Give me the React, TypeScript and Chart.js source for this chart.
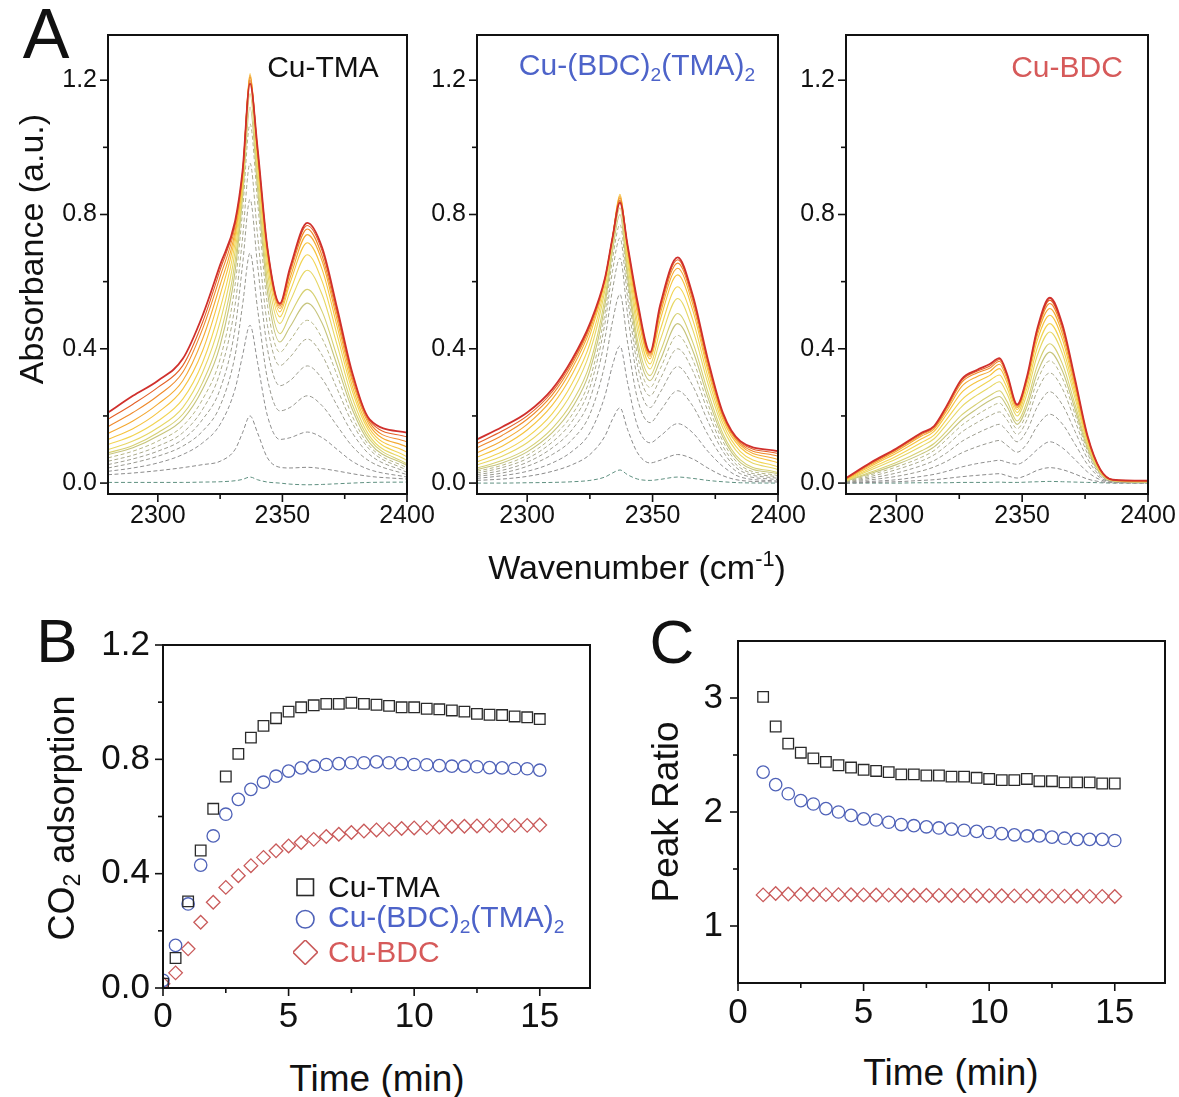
import React, { useEffect, useRef } from 'react';
import { Chart, registerables } from 'chart.js';

Chart.register(...registerables);

const FONT = "'Liberation Sans', Arial, Helvetica, sans-serif";
Chart.defaults.font.family = FONT;
Chart.defaults.color = '#111';

// ---------------- Panel A data ----------------
const WN_TMA = [2280, 2290, 2300, 2310, 2318, 2325, 2331, 2334, 2337, 2340, 2344, 2349, 2353, 2360, 2366, 2372, 2378, 2385, 2400];
const WN_MIX = [2280, 2290, 2300, 2310, 2318, 2325, 2331, 2334, 2337, 2340, 2344, 2349, 2353, 2360, 2366, 2372, 2378, 2385, 2400];
const WN_BDC = [2280, 2290, 2300, 2310, 2315, 2320, 2326, 2332, 2337, 2341, 2344, 2348, 2352, 2356, 2361, 2366, 2371, 2376, 2381, 2386, 2400];

// acquisition times (min) of the plotted spectra
const SPECTRUM_TIMES = [0, 0.5, 1, 1.5, 2, 2.5, 3, 3.5, 4, 5, 6, 7.5, 9, 11, 13, 15];
const SPECTRUM_COLORS = ['#5f9080', '#8a8a8a', '#909090', '#97978f', '#9e9e90', '#a9a98c', '#b5b586', '#c6c47c', '#d6d072', '#e7d764', '#f2d452', '#f6c33e', '#f4a932', '#ef8a2b', '#e46027', '#d0302c'];

const CU_TMA_SPECTRA = [
  [0.002, 0.002, 0.002, 0.002, 0.003, 0.004, 0.007, 0.011, 0.018, 0.010, 0.003, 0.000, -0.003, -0.005, -0.004, -0.002, 0.000, 0.002, 0.003],
  [0.025, 0.030, 0.037, 0.046, 0.055, 0.065, 0.100, 0.150, 0.200, 0.150, 0.075, 0.047, 0.045, 0.047, 0.043, 0.036, 0.028, 0.020, 0.012],
  [0.035, 0.045, 0.060, 0.085, 0.120, 0.175, 0.280, 0.380, 0.470, 0.360, 0.200, 0.130, 0.135, 0.152, 0.135, 0.100, 0.065, 0.040, 0.018],
  [0.045, 0.060, 0.080, 0.110, 0.155, 0.230, 0.380, 0.530, 0.685, 0.520, 0.310, 0.215, 0.225, 0.260, 0.230, 0.170, 0.110, 0.065, 0.025],
  [0.055, 0.072, 0.095, 0.130, 0.190, 0.280, 0.460, 0.650, 0.845, 0.650, 0.400, 0.290, 0.305, 0.349, 0.310, 0.230, 0.150, 0.085, 0.032],
  [0.065, 0.083, 0.110, 0.150, 0.220, 0.330, 0.530, 0.730, 0.953, 0.740, 0.470, 0.350, 0.375, 0.429, 0.380, 0.280, 0.180, 0.100, 0.038],
  [0.075, 0.095, 0.125, 0.170, 0.250, 0.370, 0.590, 0.810, 1.070, 0.840, 0.530, 0.390, 0.425, 0.485, 0.430, 0.320, 0.200, 0.110, 0.045],
  [0.085, 0.105, 0.140, 0.190, 0.280, 0.410, 0.630, 0.850, 1.120, 0.880, 0.570, 0.420, 0.465, 0.536, 0.475, 0.350, 0.220, 0.120, 0.052],
  [0.090, 0.112, 0.150, 0.205, 0.300, 0.440, 0.660, 0.870, 1.160, 0.910, 0.600, 0.445, 0.500, 0.577, 0.510, 0.375, 0.235, 0.130, 0.057],
  [0.100, 0.125, 0.165, 0.225, 0.330, 0.480, 0.690, 0.885, 1.195, 0.940, 0.630, 0.475, 0.540, 0.634, 0.560, 0.410, 0.255, 0.140, 0.067],
  [0.115, 0.142, 0.185, 0.250, 0.360, 0.520, 0.715, 0.895, 1.210, 0.960, 0.655, 0.495, 0.570, 0.680, 0.600, 0.440, 0.275, 0.152, 0.078],
  [0.130, 0.162, 0.210, 0.280, 0.395, 0.560, 0.735, 0.905, 1.220, 0.975, 0.675, 0.510, 0.595, 0.716, 0.635, 0.465, 0.290, 0.162, 0.092],
  [0.148, 0.185, 0.235, 0.305, 0.430, 0.590, 0.750, 0.915, 1.215, 0.985, 0.685, 0.520, 0.610, 0.740, 0.660, 0.485, 0.305, 0.172, 0.107],
  [0.168, 0.210, 0.260, 0.330, 0.460, 0.615, 0.765, 0.920, 1.210, 0.990, 0.695, 0.527, 0.625, 0.757, 0.675, 0.500, 0.315, 0.180, 0.122],
  [0.190, 0.235, 0.285, 0.350, 0.480, 0.635, 0.775, 0.925, 1.200, 0.995, 0.700, 0.532, 0.635, 0.767, 0.690, 0.510, 0.325, 0.186, 0.137],
  [0.210, 0.260, 0.305, 0.370, 0.500, 0.650, 0.780, 0.930, 1.190, 1.000, 0.700, 0.535, 0.640, 0.775, 0.700, 0.520, 0.330, 0.190, 0.150],
];

const CU_MIX_SPECTRA = [
  [0.000, 0.000, 0.001, 0.002, 0.004, 0.008, 0.018, 0.030, 0.039, 0.025, 0.012, 0.008, 0.011, 0.018, 0.014, 0.008, 0.004, 0.001, 0.000],
  [0.008, 0.012, 0.020, 0.035, 0.055, 0.085, 0.140, 0.190, 0.224, 0.160, 0.090, 0.060, 0.068, 0.085, 0.072, 0.045, 0.022, 0.008, 0.003],
  [0.014, 0.022, 0.035, 0.060, 0.095, 0.150, 0.260, 0.350, 0.408, 0.300, 0.170, 0.120, 0.140, 0.177, 0.150, 0.095, 0.050, 0.018, 0.006],
  [0.020, 0.030, 0.050, 0.085, 0.130, 0.205, 0.355, 0.480, 0.562, 0.420, 0.250, 0.180, 0.215, 0.275, 0.230, 0.145, 0.075, 0.028, 0.010],
  [0.025, 0.038, 0.062, 0.105, 0.160, 0.250, 0.430, 0.575, 0.670, 0.505, 0.310, 0.225, 0.270, 0.347, 0.290, 0.185, 0.095, 0.037, 0.014],
  [0.030, 0.046, 0.073, 0.122, 0.185, 0.285, 0.475, 0.630, 0.730, 0.555, 0.350, 0.260, 0.310, 0.400, 0.335, 0.215, 0.110, 0.045, 0.018],
  [0.035, 0.053, 0.083, 0.137, 0.205, 0.310, 0.505, 0.665, 0.770, 0.590, 0.380, 0.285, 0.340, 0.440, 0.368, 0.237, 0.125, 0.053, 0.022],
  [0.040, 0.060, 0.093, 0.150, 0.225, 0.335, 0.530, 0.690, 0.800, 0.615, 0.405, 0.305, 0.365, 0.475, 0.395, 0.256, 0.137, 0.061, 0.027],
  [0.045, 0.067, 0.102, 0.163, 0.242, 0.355, 0.550, 0.705, 0.820, 0.635, 0.425, 0.320, 0.390, 0.505, 0.420, 0.273, 0.148, 0.069, 0.031],
  [0.054, 0.080, 0.120, 0.186, 0.272, 0.390, 0.575, 0.720, 0.840, 0.660, 0.455, 0.340, 0.425, 0.550, 0.457, 0.298, 0.165, 0.083, 0.040],
  [0.063, 0.093, 0.137, 0.207, 0.298, 0.415, 0.590, 0.727, 0.850, 0.678, 0.478, 0.355, 0.455, 0.585, 0.487, 0.318, 0.178, 0.094, 0.048],
  [0.077, 0.110, 0.158, 0.232, 0.325, 0.440, 0.600, 0.730, 0.860, 0.693, 0.503, 0.370, 0.485, 0.620, 0.515, 0.337, 0.190, 0.106, 0.060],
  [0.090, 0.126, 0.175, 0.250, 0.343, 0.455, 0.605, 0.730, 0.855, 0.700, 0.518, 0.378, 0.503, 0.640, 0.533, 0.349, 0.198, 0.113, 0.070],
  [0.105, 0.142, 0.190, 0.263, 0.355, 0.465, 0.607, 0.730, 0.850, 0.705, 0.528, 0.383, 0.515, 0.655, 0.546, 0.359, 0.203, 0.118, 0.080],
  [0.118, 0.155, 0.200, 0.272, 0.363, 0.470, 0.608, 0.730, 0.842, 0.708, 0.535, 0.387, 0.523, 0.665, 0.554, 0.365, 0.207, 0.122, 0.088],
  [0.130, 0.167, 0.210, 0.280, 0.370, 0.475, 0.610, 0.730, 0.835, 0.710, 0.540, 0.390, 0.530, 0.672, 0.560, 0.370, 0.210, 0.125, 0.095],
];

const CU_BDC_SPECTRA = [
  [0.000, 0.000, 0.000, 0.001, 0.001, 0.001, 0.002, 0.002, 0.002, 0.003, 0.002, 0.002, 0.003, 0.004, 0.005, 0.004, 0.003, 0.002, 0.001, 0.000, 0.000],
  [0.000, 0.002, 0.004, 0.008, 0.010, 0.014, 0.019, 0.023, 0.026, 0.028, 0.022, 0.015, 0.024, 0.038, 0.046, 0.040, 0.027, 0.012, 0.004, 0.001, 0.000],
  [0.001, 0.005, 0.010, 0.020, 0.026, 0.035, 0.048, 0.058, 0.064, 0.068, 0.062, 0.056, 0.072, 0.100, 0.123, 0.105, 0.070, 0.033, 0.010, 0.002, 0.001],
  [0.002, 0.010, 0.020, 0.036, 0.048, 0.065, 0.090, 0.108, 0.120, 0.127, 0.112, 0.092, 0.118, 0.170, 0.205, 0.176, 0.116, 0.055, 0.016, 0.003, 0.001],
  [0.003, 0.015, 0.030, 0.052, 0.067, 0.090, 0.124, 0.148, 0.165, 0.175, 0.155, 0.123, 0.158, 0.227, 0.272, 0.233, 0.154, 0.072, 0.021, 0.004, 0.002],
  [0.004, 0.020, 0.040, 0.066, 0.084, 0.112, 0.152, 0.180, 0.200, 0.212, 0.188, 0.145, 0.190, 0.275, 0.328, 0.281, 0.185, 0.087, 0.025, 0.005, 0.002],
  [0.005, 0.025, 0.048, 0.077, 0.097, 0.130, 0.172, 0.203, 0.225, 0.238, 0.210, 0.162, 0.212, 0.305, 0.364, 0.312, 0.205, 0.096, 0.028, 0.006, 0.003],
  [0.006, 0.029, 0.055, 0.087, 0.108, 0.143, 0.188, 0.221, 0.245, 0.258, 0.228, 0.175, 0.230, 0.328, 0.390, 0.334, 0.220, 0.103, 0.030, 0.007, 0.003],
  [0.007, 0.033, 0.061, 0.096, 0.118, 0.155, 0.203, 0.236, 0.260, 0.275, 0.243, 0.185, 0.245, 0.350, 0.415, 0.355, 0.234, 0.110, 0.032, 0.007, 0.004],
  [0.008, 0.040, 0.072, 0.110, 0.132, 0.175, 0.228, 0.262, 0.285, 0.302, 0.266, 0.200, 0.268, 0.380, 0.450, 0.385, 0.253, 0.118, 0.034, 0.008, 0.004],
  [0.009, 0.045, 0.080, 0.121, 0.143, 0.190, 0.248, 0.282, 0.305, 0.322, 0.283, 0.210, 0.285, 0.403, 0.475, 0.406, 0.267, 0.124, 0.036, 0.008, 0.005],
  [0.011, 0.051, 0.089, 0.132, 0.154, 0.205, 0.270, 0.302, 0.320, 0.341, 0.299, 0.219, 0.300, 0.425, 0.500, 0.428, 0.281, 0.129, 0.038, 0.009, 0.005],
  [0.012, 0.055, 0.095, 0.140, 0.161, 0.215, 0.288, 0.317, 0.332, 0.354, 0.310, 0.225, 0.308, 0.440, 0.520, 0.444, 0.292, 0.133, 0.039, 0.009, 0.006],
  [0.013, 0.058, 0.099, 0.145, 0.165, 0.222, 0.300, 0.328, 0.342, 0.363, 0.318, 0.229, 0.314, 0.450, 0.535, 0.457, 0.300, 0.136, 0.040, 0.010, 0.006],
  [0.014, 0.060, 0.101, 0.148, 0.168, 0.227, 0.306, 0.333, 0.348, 0.368, 0.322, 0.232, 0.317, 0.456, 0.545, 0.466, 0.306, 0.138, 0.041, 0.010, 0.007],
  [0.015, 0.062, 0.103, 0.150, 0.170, 0.230, 0.310, 0.337, 0.354, 0.372, 0.325, 0.234, 0.320, 0.460, 0.552, 0.472, 0.310, 0.140, 0.041, 0.010, 0.007],
];

const A_X_MAJOR = [2300, 2350, 2400];
const A_X_MINOR = [2325, 2375];
const A_Y_MAJOR = [0, 0.4, 0.8, 1.2];
const A_Y_MINOR = [0.2, 0.6, 1.0];

// ---------------- Panel B data ----------------
const TIME_B = [0, 0.5, 1, 1.5, 2, 2.5, 3, 3.5, 4, 4.5, 5, 5.5, 6, 6.5, 7, 7.5, 8, 8.5, 9, 9.5, 10, 10.5, 11, 11.5, 12, 12.5, 13, 13.5, 14, 14.5, 15];
const ADS_TMA = [0.015, 0.105, 0.303, 0.481, 0.627, 0.740, 0.819, 0.876, 0.917, 0.944, 0.967, 0.982, 0.989, 0.994, 0.994, 0.998, 0.994, 0.991, 0.987, 0.982, 0.982, 0.977, 0.975, 0.971, 0.967, 0.959, 0.956, 0.955, 0.950, 0.947, 0.941];
const ADS_MIX = [0.027, 0.149, 0.294, 0.430, 0.532, 0.608, 0.660, 0.695, 0.720, 0.741, 0.759, 0.770, 0.776, 0.782, 0.785, 0.788, 0.788, 0.791, 0.788, 0.785, 0.782, 0.781, 0.778, 0.776, 0.776, 0.774, 0.771, 0.770, 0.768, 0.767, 0.762];
const ADS_BDC = [0.015, 0.053, 0.137, 0.230, 0.300, 0.352, 0.393, 0.428, 0.457, 0.480, 0.497, 0.509, 0.520, 0.530, 0.538, 0.544, 0.549, 0.553, 0.555, 0.558, 0.560, 0.561, 0.563, 0.565, 0.566, 0.567, 0.568, 0.568, 0.569, 0.569, 0.570];

// ---------------- Panel C data ----------------
const TIME_C = [1, 1.5, 2, 2.5, 3, 3.5, 4, 4.5, 5, 5.5, 6, 6.5, 7, 7.5, 8, 8.5, 9, 9.5, 10, 10.5, 11, 11.5, 12, 12.5, 13, 13.5, 14, 14.5, 15];
const RATIO_TMA = [3.01, 2.75, 2.60, 2.52, 2.47, 2.44, 2.41, 2.39, 2.37, 2.36, 2.35, 2.33, 2.33, 2.32, 2.32, 2.31, 2.31, 2.30, 2.29, 2.28, 2.28, 2.29, 2.27, 2.27, 2.26, 2.26, 2.26, 2.25, 2.25];
const RATIO_MIX = [2.35, 2.24, 2.16, 2.10, 2.07, 2.03, 2.00, 1.97, 1.94, 1.93, 1.91, 1.89, 1.88, 1.87, 1.86, 1.85, 1.84, 1.83, 1.82, 1.81, 1.80, 1.79, 1.79, 1.78, 1.77, 1.76, 1.76, 1.76, 1.75];
const RATIO_BDC = [1.273, 1.285, 1.280, 1.278, 1.276, 1.275, 1.275, 1.274, 1.273, 1.272, 1.271, 1.270, 1.270, 1.269, 1.268, 1.268, 1.267, 1.266, 1.266, 1.265, 1.264, 1.264, 1.263, 1.262, 1.262, 1.261, 1.260, 1.260, 1.259];

const T_X_MAJOR = [0, 5, 10, 15];
const T_X_MINOR = [2.5, 7.5, 12.5];
const B_Y_MAJOR = [0, 0.4, 0.8, 1.2];
const B_Y_MINOR = [0.2, 0.6, 1.0];
const C_Y_MAJOR = [1, 2, 3];
const C_Y_MINOR = [1.5, 2.5];

const C_BLACK = '#2a2a2a';
const C_BLUE = '#4f62b8';
const C_RED = '#c95a5a';
const TXT_BLUE = '#4d63c9';
const TXT_RED = '#d65a5a';

// ---------------- helpers ----------------
const framePlugin = {
  id: 'frame',
  afterDraw(chart: any, _args: any, opts: any) {
    const { ctx, chartArea: a, scales } = chart;
    const xs = scales.x;
    const ys = scales.y;
    ctx.save();
    ctx.strokeStyle = '#111';
    ctx.lineWidth = 1.6;
    const tick = (vals: number[], len: number, axis: 'x' | 'y') => {
      vals.forEach((v) => {
        ctx.beginPath();
        if (axis === 'x') {
          const px = xs.getPixelForValue(v);
          ctx.moveTo(px, a.bottom);
          ctx.lineTo(px, a.bottom + len);
        } else {
          const py = ys.getPixelForValue(v);
          ctx.moveTo(a.left, py);
          ctx.lineTo(a.left - len, py);
        }
        ctx.stroke();
      });
    };
    tick(opts.xMajor || [], 8, 'x');
    tick(opts.xMinor || [], 5, 'x');
    tick(opts.yMajor || [], 8, 'y');
    tick(opts.yMinor || [], 5, 'y');
    ctx.lineWidth = 2;
    ctx.strokeRect(a.left, a.top, a.right - a.left, a.bottom - a.top);
    ctx.restore();
  },
};

type Geo = { yW: number; padTop: number; padRight: number; xH: number };

function axes(o: {
  xMin: number; xMax: number; yMin: number; yMax: number;
  xMajor: number[]; yMajor: number[]; fontSize: number;
  xPad: number; yPad: number; geo: Geo;
  xFmt: (v: number) => string; yFmt: (v: number) => string;
}) {
  return {
    x: {
      type: 'linear', min: o.xMin, max: o.xMax,
      grid: { display: false, drawTicks: false }, border: { display: false },
      ticks: { padding: o.xPad, autoSkip: false, maxRotation: 0, color: '#111', font: { size: o.fontSize, family: FONT }, callback: (v: any) => o.xFmt(Number(v)) },
      afterBuildTicks: (s: any) => { s.ticks = o.xMajor.map((v) => ({ value: v })); },
      afterFit: (s: any) => { s.height = o.geo.xH; s.paddingLeft = 0; s.paddingRight = 0; },
    },
    y: {
      type: 'linear', min: o.yMin, max: o.yMax,
      grid: { display: false, drawTicks: false }, border: { display: false },
      ticks: { padding: o.yPad, autoSkip: false, color: '#111', font: { size: o.fontSize, family: FONT }, callback: (v: any) => o.yFmt(Number(v)) },
      afterBuildTicks: (s: any) => { s.ticks = o.yMajor.map((v) => ({ value: v })); },
      afterFit: (s: any) => { s.width = o.geo.yW; s.paddingTop = 0; s.paddingBottom = 0; },
    },
  };
}

function ChartCanvas({ config, left, top, width, height }: any) {
  const ref = useRef<HTMLCanvasElement | null>(null);
  useEffect(() => {
    const c = new Chart(ref.current as HTMLCanvasElement, config);
    return () => c.destroy();
  }, []);
  return (
    <canvas ref={ref} width={width} height={height}
      style={{ position: 'absolute', left, top, width, height }} />
  );
}

type Box = { l: number; t: number; r: number; b: number };

function place(box: Box, geo: Geo) {
  return {
    left: box.l - geo.yW,
    top: box.t - geo.padTop,
    width: geo.yW + (box.r - box.l) + geo.padRight,
    height: geo.padTop + (box.b - box.t) + geo.xH,
  };
}

function spectraConfig(wn: number[], curves: number[][], geo: Geo) {
  const datasets = curves.map((row, i) => ({
    label: `${SPECTRUM_TIMES[i]} min`,
    data: row.map((v, j) => ({ x: wn[j], y: v })),
    borderColor: SPECTRUM_COLORS[i],
    borderWidth: i === curves.length - 1 ? 1.8 : (i <= 6 ? 1 : 1.1),
    borderDash: i <= 6 ? [4, 2.5] : [],
    pointRadius: 0,
    fill: false,
    cubicInterpolationMode: 'monotone',
  })).reverse();
  return {
    type: 'line',
    data: { datasets },
    plugins: [framePlugin],
    options: {
      animation: false, responsive: false, devicePixelRatio: 1,
      layout: { padding: { top: geo.padTop, right: geo.padRight, left: 0, bottom: 0 } },
      plugins: {
        legend: { display: false }, tooltip: { enabled: false },
        frame: { xMajor: A_X_MAJOR, xMinor: A_X_MINOR, yMajor: A_Y_MAJOR, yMinor: A_Y_MINOR },
      },
      scales: axes({
        xMin: 2280, xMax: 2400, yMin: -0.0325, yMax: 1.3346,
        xMajor: A_X_MAJOR, yMajor: A_Y_MAJOR, fontSize: 25, xPad: 7, yPad: 11, geo,
        xFmt: (v) => String(v), yFmt: (v) => v.toFixed(1),
      }),
    },
  };
}

function scatterSet(label: string, xs: number[], ys: number[], color: string, style: string, radius: number) {
  return {
    label,
    data: xs.map((x, i) => ({ x, y: ys[i] })),
    showLine: false,
    pointStyle: style,
    pointRadius: radius,
    pointBorderWidth: 1.3,
    pointBorderColor: color,
    pointBackgroundColor: 'rgba(0,0,0,0)',
    borderColor: color,
  };
}

function timeConfig(datasets: any[], geo: Geo, yMin: number, yMax: number, yMajor: number[], yMinor: number[], yFmt: (v: number) => string, xPad: number, yPad: number) {
  return {
    type: 'line',
    data: { datasets },
    plugins: [framePlugin],
    options: {
      animation: false, responsive: false, devicePixelRatio: 1,
      layout: { padding: { top: geo.padTop, right: geo.padRight, left: 0, bottom: 0 } },
      plugins: {
        legend: { display: false }, tooltip: { enabled: false },
        frame: { xMajor: T_X_MAJOR, xMinor: T_X_MINOR, yMajor, yMinor },
      },
      scales: axes({
        xMin: 0, xMax: 17, yMin, yMax, xMajor: T_X_MAJOR, yMajor, fontSize: 35, xPad, yPad, geo,
        xFmt: (v) => String(v), yFmt,
      }),
    },
  };
}

function Label({ x, y, size, color = '#111', rotate = false, children, weight = 400 }: any) {
  return (
    <div style={{
      position: 'absolute', left: x, top: y, fontSize: size, color, fontFamily: FONT, fontWeight: weight,
      lineHeight: 1, whiteSpace: 'nowrap',
      transform: `translate(-50%, -50%)${rotate ? ' rotate(-90deg)' : ''}`,
    }}>{children}</div>
  );
}

const Sub = ({ children }: any) => <span style={{ fontSize: '0.64em', verticalAlign: '-0.28em' }}>{children}</span>;
const Sup = ({ children }: any) => <span style={{ fontSize: '0.64em', verticalAlign: '0.62em' }}>{children}</span>;

export default function App() {
  const geoA: Geo = { yW: 100, padTop: 20, padRight: 40, xH: 50 };
  const geoA3: Geo = { yW: 100, padTop: 20, padRight: 31, xH: 50 };
  const boxA1: Box = { l: 108, t: 35, r: 407, b: 494 };
  const boxA2: Box = { l: 477, t: 35, r: 778, b: 494 };
  const boxA3: Box = { l: 846, t: 35, r: 1148, b: 494 };
  const geoB: Geo = { yW: 120, padTop: 22, padRight: 40, xH: 60 };
  const geoC: Geo = { yW: 120, padTop: 22, padRight: 14, xH: 60 };
  const boxB: Box = { l: 163, t: 645, r: 590, b: 988 };
  const boxC: Box = { l: 738, t: 641, r: 1165, b: 983 };

  const cfgA1 = spectraConfig(WN_TMA, CU_TMA_SPECTRA, geoA);
  const cfgA2 = spectraConfig(WN_MIX, CU_MIX_SPECTRA, geoA);
  const cfgA3 = spectraConfig(WN_BDC, CU_BDC_SPECTRA, geoA3);

  const cfgB = timeConfig([
    scatterSet('Cu-TMA', TIME_B, ADS_TMA, C_BLACK, 'rect', 7.5),
    scatterSet('Cu-(BDC)2(TMA)2', TIME_B, ADS_MIX, C_BLUE, 'circle', 6.2),
    scatterSet('Cu-BDC', TIME_B, ADS_BDC, C_RED, 'rectRot', 6.8),
  ], geoB, 0, 1.2, B_Y_MAJOR, B_Y_MINOR, (v) => v.toFixed(1), 8, 13);

  const cfgC = timeConfig([
    scatterSet('Cu-TMA', TIME_C, RATIO_TMA, C_BLACK, 'rect', 7.5),
    scatterSet('Cu-(BDC)2(TMA)2', TIME_C, RATIO_MIX, C_BLUE, 'circle', 6.2),
    scatterSet('Cu-BDC', TIME_C, RATIO_BDC, C_RED, 'rectRot', 6.8),
  ], geoC, 0.5, 3.5, C_Y_MAJOR, C_Y_MINOR, (v) => String(v), 9, 15);

  const legendRows = [
    { y: 887, text: <>Cu-TMA</>, color: '#111', marker: <rect x="4" y="4" width="16.5" height="16.5" fill="none" stroke={C_BLACK} strokeWidth="1.6" /> },
    { y: 919, text: <>Cu-(BDC)<Sub>2</Sub>(TMA)<Sub>2</Sub></>, color: TXT_BLUE, marker: <circle cx="12.25" cy="12.25" r="8.8" fill="none" stroke={C_BLUE} strokeWidth="1.6" /> },
    { y: 952, text: <>Cu-BDC</>, color: TXT_RED, marker: <polygon points="12.25,0 24.5,12.25 12.25,24.5 0,12.25" fill="none" stroke={C_RED} strokeWidth="1.6" /> },
  ];

  return (
    <div style={{ position: 'absolute', left: 0, top: 0, width: 1179, height: 1097, background: '#fff', overflow: 'hidden' }}>
      <ChartCanvas config={cfgA1} {...place(boxA1, geoA)} />
      <ChartCanvas config={cfgA2} {...place(boxA2, geoA)} />
      <ChartCanvas config={cfgA3} {...place(boxA3, geoA3)} />
      <ChartCanvas config={cfgB} {...place(boxB, geoB)} />
      <ChartCanvas config={cfgC} {...place(boxC, geoC)} />

      <Label x={46} y={34} size={70}>A</Label>
      <Label x={31} y={249} size={34} rotate>Absorbance (a.u.)</Label>
      <Label x={323} y={67} size={30}>Cu-TMA</Label>
      <Label x={637} y={67} size={30} color={TXT_BLUE}>Cu-(BDC)<Sub>2</Sub>(TMA)<Sub>2</Sub></Label>
      <Label x={1067} y={67} size={30} color={TXT_RED}>Cu-BDC</Label>
      <Label x={637} y={566} size={34}>Wavenumber (cm<Sup>-1</Sup>)</Label>

      <Label x={57} y={641} size={62}>B</Label>
      <Label x={64} y={818} size={36} rotate>CO<Sub>2</Sub> adsorption</Label>
      <Label x={377} y={1078} size={37}>Time (min)</Label>
      {legendRows.map((r, i) => (
        <React.Fragment key={i}>
          <svg width="25" height="25" style={{ position: 'absolute', left: 305 - 12.5, top: r.y - 12.5 }}>{r.marker}</svg>
          <div style={{ position: 'absolute', left: 328, top: r.y, transform: 'translateY(-50%)', fontSize: 30, lineHeight: 1, color: r.color, fontFamily: FONT, whiteSpace: 'nowrap' }}>{r.text}</div>
        </React.Fragment>
      ))}

      <Label x={672} y={642} size={62}>C</Label>
      <Label x={665} y={812} size={37} rotate>Peak Ratio</Label>
      <Label x={951} y={1072} size={37}>Time (min)</Label>
    </div>
  );
}
